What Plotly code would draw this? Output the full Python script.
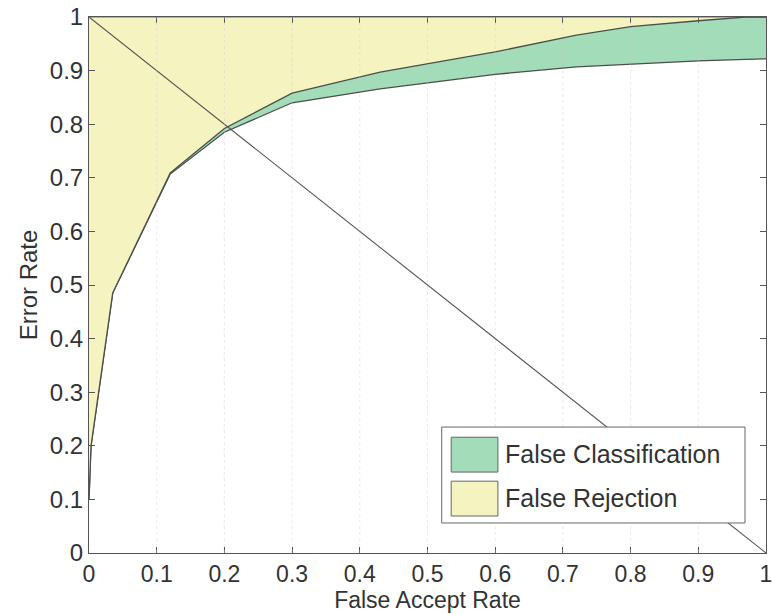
import plotly.graph_objects as go

# False accept rate (x) sampled along the curves
far = [0, 0.003, 0.035, 0.12, 0.2, 0.3, 0.43, 0.6, 0.72, 0.8, 0.9, 0.97, 1.0]
# stacked components
correct = [0.10, 0.20, 0.485, 0.707, 0.785, 0.840, 0.866, 0.893, 0.907, 0.912, 0.918, 0.921, 0.922]
false_classification = [0, 0, 0, 0.002, 0.007, 0.018, 0.031, 0.042, 0.059, 0.070, 0.075, 0.079, 0.078]
false_rejection = [0.90, 0.80, 0.515, 0.291, 0.208, 0.142, 0.103, 0.065, 0.034, 0.018, 0.007, 0, 0]

# equal error rate diagonal
diag_x = [0, 1]
diag_y = [1, 0]

tick_vals = [0, 0.1, 0.2, 0.3, 0.4, 0.5, 0.6, 0.7, 0.8, 0.9, 1]
tick_text = ["0", "0.1", "0.2", "0.3", "0.4", "0.5", "0.6", "0.7", "0.8", "0.9", "1"]

GREEN = "#a3dcb9"
YELLOW = "#f5f4c0"
LINE = "#4a4f4a"
FONT = "Liberation Sans, Arial, sans-serif"
TXT = "#333333"

fig = go.Figure()
fig.add_trace(go.Scatter(x=far, y=correct, stackgroup="s", mode="lines",
                         line=dict(color=LINE, width=1.3), fillcolor="rgba(255,255,255,0)",
                         showlegend=False, hoverinfo="skip"))
fig.add_trace(go.Scatter(x=far, y=false_classification, stackgroup="s", mode="lines",
                         line=dict(color=LINE, width=1.3), fillcolor=GREEN,
                         name="False Classification", showlegend=False))
fig.add_trace(go.Scatter(x=far, y=false_rejection, stackgroup="s", mode="lines",
                         line=dict(color=LINE, width=0.8), fillcolor=YELLOW,
                         name="False Rejection", showlegend=False))
fig.add_trace(go.Scatter(x=diag_x, y=diag_y, mode="lines",
                         line=dict(color="#555555", width=1.1), showlegend=False))

axis_common = dict(
    range=[0, 1], tickvals=tick_vals, ticktext=tick_text,
    ticks="inside", ticklen=6, tickcolor="#555555", tickwidth=1,
    showline=True, linecolor="#555555", linewidth=1, mirror="ticks",
    showgrid=False, zeroline=False,
    tickfont=dict(family=FONT, size=24, color=TXT),
    ticklabeloverflow="allow",
    automargin=False,
    layer="above traces",
)

fig.update_layout(
    width=773, height=614,
    margin=dict(l=89, r=7, t=17, b=61),
    paper_bgcolor="white", plot_bgcolor="white",
    font=dict(family=FONT, color=TXT),
    xaxis=dict(axis_common, tickfont=dict(family=FONT, size=23, color=TXT),
               title=dict(text="False Accept Rate",
               font=dict(family=FONT, size=23, color=TXT), standoff=1)),
    yaxis=dict(axis_common, title=dict(text="Error Rate",
               font=dict(family=FONT, size=24, color=TXT), standoff=5)),
    showlegend=False,
)

# faint dotted vertical grid lines
for v in tick_vals[1:-1]:
    fig.add_shape(type="line", xref="x", yref="paper", x0=v, x1=v, y0=0, y1=1,
                  line=dict(color="rgba(200,200,200,0.4)", width=1, dash="dot"), layer="above")

# legend box drawn in paper coordinates
fig.add_shape(type="rect", xref="paper", yref="paper", x0=0.521, x1=0.969, y0=0.056, y1=0.235,
              line=dict(color="#666666", width=1), fillcolor="white", layer="above")
fig.add_shape(type="rect", xref="paper", yref="paper", x0=0.535, x1=0.604, y0=0.151, y1=0.216,
              line=dict(color="#666666", width=1), fillcolor=GREEN, layer="above")
fig.add_shape(type="rect", xref="paper", yref="paper", x0=0.535, x1=0.604, y0=0.069, y1=0.134,
              line=dict(color="#666666", width=1), fillcolor=YELLOW, layer="above")
fig.add_annotation(xref="paper", yref="paper", x=0.612, y=0.185, xanchor="left", yanchor="middle",
                   text="False Classification", showarrow=False,
                   font=dict(family=FONT, size=25, color=TXT))
fig.add_annotation(xref="paper", yref="paper", x=0.612, y=0.103, xanchor="left", yanchor="middle",
                   text="False Rejection", showarrow=False,
                   font=dict(family=FONT, size=25, color=TXT))

fig.write_html("out.html")
